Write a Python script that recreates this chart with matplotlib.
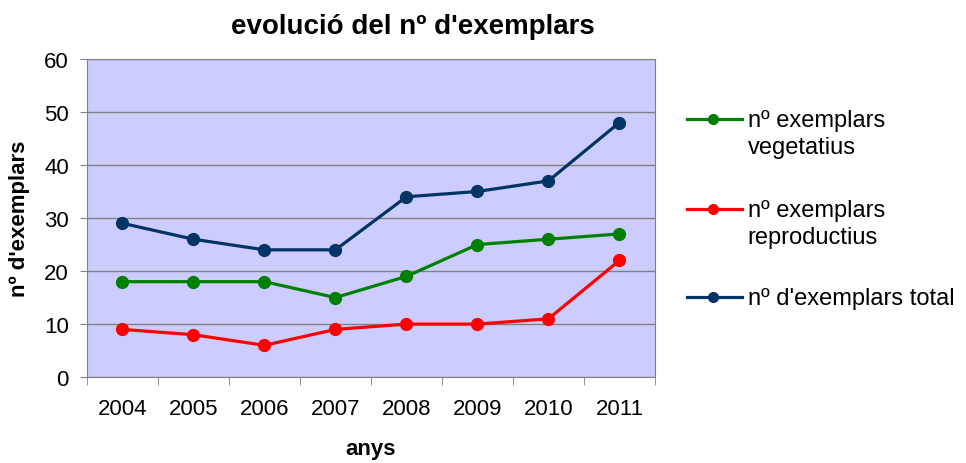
import matplotlib
matplotlib.use("Agg")
import matplotlib.pyplot as plt
from matplotlib.lines import Line2D
import numpy as np

plt.rcParams['font.family'] = ['Liberation Sans', 'DejaVu Sans']

anys = ['2004', '2005', '2006', '2007', '2008', '2009', '2010', '2011']
vegetatius = [18, 18, 18, 15, 19, 25, 26, 27]
reproductius = [9, 8, 6, 9, 10, 10, 11, 22]
total = [29, 26, 24, 24, 34, 35, 37, 48]

series = [
    ('nº exemplars\nvegetatius', vegetatius, '#008000'),
    ('nº exemplars\nreproductius', reproductius, '#FF0000'),
    ("nº d'exemplars total", total, '#003366'),
]

fig = plt.figure(figsize=(9.66, 4.64), dpi=100)
ax = fig.add_axes([0.090, 0.185, 0.588, 0.686])
ax.set_facecolor('#CCCCFF')

x = np.arange(len(anys))
for label, vals, col in series:
    ax.plot(x, vals, color=col, lw=2.3, marker='o', ms=8.5, zorder=3)

ax.set_xlim(-0.5, len(anys) - 0.5)
ax.set_ylim(0, 60)
ax.set_yticks(range(0, 61, 10))
ax.set_xticks(x)
ax.set_xticklabels(anys)
ax.set_xticks(np.arange(-0.5, len(anys), 1), minor=True)
ax.tick_params(axis='x', which='major', length=0, pad=15, labelsize=16)
ax.tick_params(axis='x', which='minor', length=6, direction='out', color='#808080')
ax.tick_params(axis='y', length=5, direction='out', color='#808080', labelsize=16, pad=8)
ax.yaxis.grid(True, color='#808080', lw=1)
ax.set_axisbelow(True)
for s in ax.spines.values():
    s.set_color('#808080')

ax.set_xlabel('anys', fontsize=16, fontweight='bold', labelpad=14)
ax.set_ylabel("nº d'exemplars", fontsize=16, fontweight='bold', labelpad=10)
fig.text(0.427, 0.942, "evolució del nº d'exemplars", ha='center', va='center',
         fontsize=20, fontweight='bold')

# legend, handle level with the first text line as in the original
leg_y = [0.726, 0.532, 0.343]
line_h = 0.058
for (label, vals, col), yb in zip(series, leg_y):
    yc = yb + 0.015
    fig.add_artist(Line2D([0.711, 0.768], [yc, yc], color=col, lw=2.3,
                          transform=fig.transFigure))
    fig.add_artist(Line2D([0.738], [yc], color=col, marker='o', ms=7,
                          transform=fig.transFigure))
    n_extra = label.count('\n')
    fig.text(0.774, yb - n_extra * line_h, label, ha='left', va='baseline',
             fontsize=17, linespacing=1.3)

fig.savefig('out.png', dpi=100)
